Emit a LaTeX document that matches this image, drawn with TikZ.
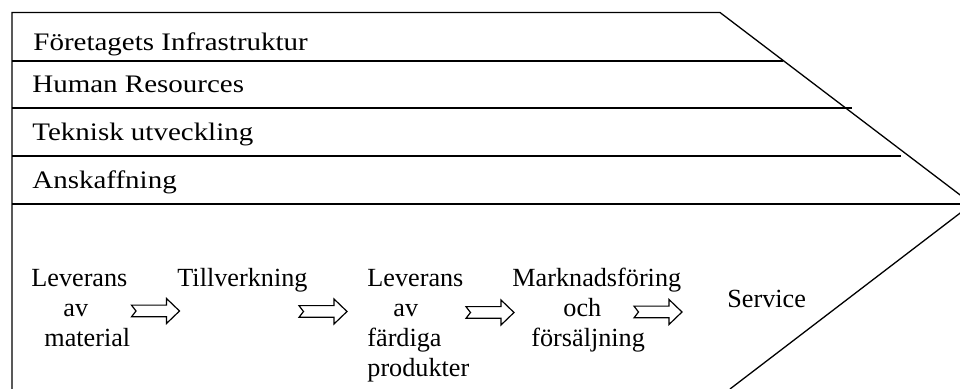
\documentclass[tikz,border=0pt]{standalone}
\usepackage{fontspec}
\setmainfont{Liberation Serif}
\newfontfamily\widefont[FakeStretch=1.15]{Liberation Serif}
\begin{document}
\begin{tikzpicture}[x=0.5pt,y=-0.5pt,
  frameline/.style={line width=0.65pt},
  rowlbl/.style={anchor=base west, inner sep=0pt, font=\widefont\fontsize{12.6}{14}\selectfont},
  steplbl/.style={anchor=base west, inner sep=0pt, font=\fontsize{13.1}{15}\selectfont},
  notcharrow/.pic={\draw[line width=0.6pt, line join=miter]
     (0,-5.85) -- (35,-5.85) -- (35,-12.5) -- (48,0) -- (35,12.5) -- (35,5.85) -- (0,5.85) -- (4.5,0) -- cycle;}
]
\useasboundingbox (0,0) rectangle (960,389);
\clip (0,0) rectangle (960,389);
% frame
\coordinate (tl) at (12,12.5);
\coordinate (tr) at (720,12.5);
\coordinate (tip) at (972,204);
\coordinate (br) at (730,389);
\coordinate (bl) at (12,395);
\draw[frameline] (bl) -- (tl) -- (tr) -- (tip) -- (br);
% row separators
\coordinate (r1a) at (12,61);   \coordinate (r1b) at (783,61);
\coordinate (r2a) at (12,108);  \coordinate (r2b) at (852,108);
\coordinate (r3a) at (12,156);  \coordinate (r3b) at (901,156);
\coordinate (r4a) at (12,204);  \coordinate (r4b) at (972,204);
\draw[frameline] (r1a) -- (r1b);
\draw[frameline] (r2a) -- (r2b);
\draw[frameline] (r3a) -- (r3b);
\draw[frameline] (r4a) -- (r4b);
% support activities
\node[rowlbl] (infra) at (33,50.5) {Företagets Infrastruktur};
\node[rowlbl] (hr) at (32,93) {Human Resources};
\node[rowlbl] (tech) at (32,140.5) {Teknisk utveckling};
\node[rowlbl] (proc) at (32,189) {Anskaffning};
% primary activities
\node[steplbl] (s1) at (31,287) {\begin{tabular}[t]{@{}l@{}}Leverans\\\hspace*{16pt}av\\\hspace*{6.5pt}material\end{tabular}};
\node[steplbl] (s2) at (177,287) {Tillverkning};
\node[steplbl] (s3) at (367,287) {\begin{tabular}[t]{@{}l@{}}Leverans\\\hspace*{13pt}av\\färdiga\\produkter\end{tabular}};
\node[steplbl] (s4) at (512,287) {\begin{tabular}[t]{@{}l@{}}Marknadsföring\\\hspace*{25.5pt}och\\\hspace*{9.5pt}försäljning\end{tabular}};
\node[steplbl] (s5) at (727,308) {Service};
% block arrows
\pic (a1) at (131.5,311) {notcharrow};
\pic (a2) at (299,311.5) {notcharrow};
\pic (a3) at (466,312.5) {notcharrow};
\pic (a4) at (634,312) {notcharrow};
\end{tikzpicture}
\end{document}
